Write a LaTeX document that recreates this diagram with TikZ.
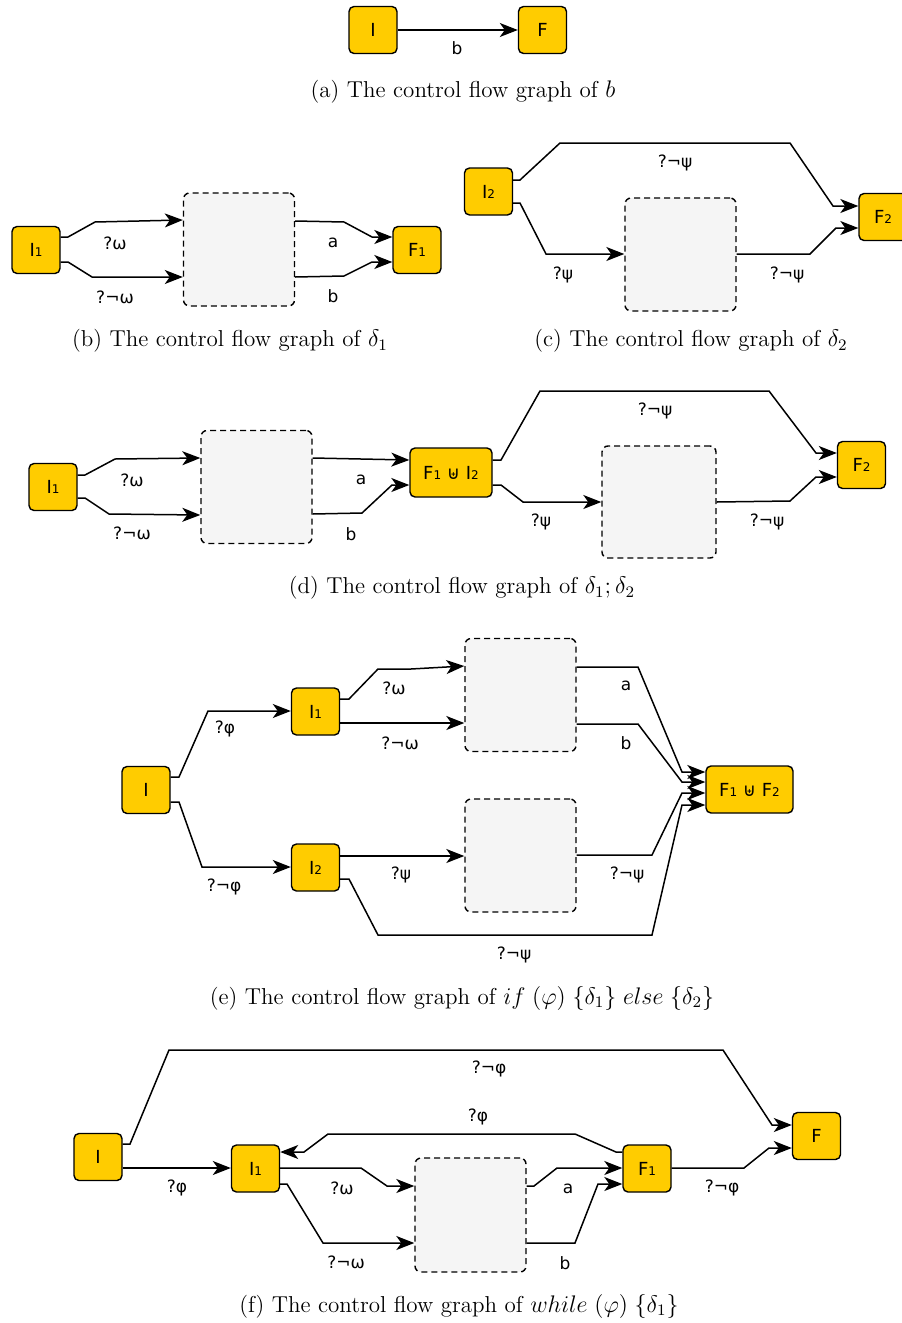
\documentclass[tikz,border=0pt]{standalone}
\usepackage{amsmath, amssymb}
\usepackage{fontspec}
\usepackage{tikz}
\usetikzlibrary{arrows.meta, calc}
\newfontfamily\dejavu{DejaVu Sans}
\definecolor{StateYellow}{HTML}{FFCC00}
\definecolor{BlockGray}{HTML}{F5F5F5}
\newcommand{\idx}[1]{{\fontsize{6}{7}\selectfont #1}}

\tikzset{
    state/.style={rectangle, rounded corners=2.5pt, fill=StateYellow, draw=black, line width=0.7pt,
        minimum width=24pt, minimum height=23.5pt, inner sep=1pt, font=\dejavu\fontsize{9}{10.8}\selectfont},
    block/.style={rectangle, rounded corners=3pt, fill=BlockGray, draw=black, line width=0.7pt,
        dash pattern=on 3pt off 2pt, minimum width=55.5pt, minimum height=56.5pt},
    flow/.style={draw=black, line width=0.75pt, -{Stealth[length=9pt, width=7pt, inset=2.5pt]}},
    guard/.style={font=\dejavu\fontsize{8.5}{10}\selectfont},
    capt/.style={font=\fontsize{11.5}{14}\selectfont}
}

\begin{document}
\begin{tikzpicture}[x=0.5pt, y=-0.5pt]
    \useasboundingbox (0,0) rectangle (901,1323);

    % (a) Action b
    \node[state] (aI) at (373,30) {I};
    \node[state] (aF) at (542.5,30) {F};
    \draw[flow] (aI) -- (aF);
    \node[guard] (aLb) at (457,48) {b};
    \node[capt] (aCap) at (463,92) {(a) The control flow graph of $b$};

    % (b) Program delta 1
    \node[state] (bI1) at (36,250) {I\idx{1}};
    \node[block] (bBox) at (239,249.5) {};
    \node[state] (bF1) at (417,250) {F\idx{1}};
    \draw[flow] (bI1.east |- 0,237) -- (68,237) -- (95,222) -- (bBox.west |- 0,220);
    \draw[flow] (bI1.east |- 0,262) -- (68,262) -- (92,277) -- (bBox.west |- 0,277);
    \draw[flow] (bBox.east |- 0,221) -- (344,222) -- (372,237) -- (bF1.west |- 0,237);
    \draw[flow] (bBox.east |- 0,277) -- (344,276) -- (372,262) -- (bF1.west |- 0,262);
    \node[guard] (bLw) at (115,243) {?ω};
    \node[guard] (bLnw) at (115,297) {?¬ω};
    \node[guard] (bLa) at (333,243) {a};
    \node[guard] (bLb) at (333,296) {b};
    \node[capt] (bCap) at (230,341) {(b) The control flow graph of $\delta_1$};

    % (c) Program delta 2
    \node[state] (cI2) at (488.5,191.5) {I\idx{2}};
    \node[block] (cBox) at (680.5,254.5) {};
    \node[state] (cF2) at (883,217) {F\idx{2}};
    \draw[flow] (cI2.east |- 0,180) -- (520,180) -- (560,143) -- (790,143) -- (833,206) -- (cF2.west |- 0,206);
    \draw[flow] (cI2.east |- 0,203) -- (520,203) -- (546,254) -- (cBox.west |- 0,254);
    \draw[flow] (cBox.east |- 0,254) -- (810,254) -- (836,228) -- (cF2.west |- 0,228);
    \node[guard] (cLtop) at (675,163) {?¬ψ};
    \node[guard] (cLp) at (563,275) {?ψ};
    \node[guard] (cLnp) at (787,275) {?¬ψ};
    \node[capt] (cCap) at (691,341) {(c) The control flow graph of $\delta_2$};

    % (d) Sequence delta 1 ; delta 2
    \node[state] (dI1) at (53,487) {I\idx{1}};
    \node[block] (dBox1) at (256.5,487) {};
    \node[state, minimum width=41pt, minimum height=24.5pt] (dM) at (451,472.5) {F\idx{1} ⊎ I\idx{2}};
    \node[block, minimum width=57pt, minimum height=56pt] (dBox2) at (659,502) {};
    \node[state] (dF2) at (861.5,465) {F\idx{2}};
    \draw[flow] (dI1.east |- 0,475) -- (85,475) -- (115,459) -- (dBox1.west |- 0,458);
    \draw[flow] (dI1.east |- 0,498) -- (85,498) -- (109,514) -- (dBox1.west |- 0,515);
    \draw[flow] (dBox1.east |- 0,458) -- (dM.west |- 0,460);
    \draw[flow] (dBox1.east |- 0,514) -- (362,513) -- (392,485) -- (dM.west |- 0,485);
    \draw[flow] (dM.east |- 0,460) -- (501,460) -- (540,391) -- (769,391) -- (816,453) -- (dF2.west |- 0,453);
    \draw[flow] (dM.east |- 0,485) -- (501,485) -- (523,502) -- (dBox2.west |- 0,502);
    \draw[flow] (dBox2.east |- 0,502) -- (790,501) -- (816,477) -- (dF2.west |- 0,477);
    \node[guard] (dLw) at (132,480) {?ω};
    \node[guard] (dLnw) at (132,533) {?¬ω};
    \node[guard] (dLa) at (361,480) {a};
    \node[guard] (dLb) at (351,534) {b};
    \node[guard] (dLtop) at (655,411) {?¬ψ};
    \node[guard] (dLp) at (541,522) {?ψ};
    \node[guard] (dLnp) at (767,522) {?¬ψ};
    \node[capt] (dCap) at (462,588) {(d) The control flow graph of $\delta_1;\delta_2$};

    % (e) Conditional
    \node[state] (eI) at (146,790) {I};
    \node[state] (eI1) at (315.5,711.5) {I\idx{1}};
    \node[state] (eI2) at (315.5,867.5) {I\idx{2}};
    \node[block] (eBox1) at (520.5,695) {};
    \node[block] (eBox2) at (520.5,855.5) {};
    \node[state, minimum width=43.5pt] (eM) at (749.5,789.5) {F\idx{1} ⊎ F\idx{2}};
    \draw[flow] (eI.east |- 0,777) -- (179,777) -- (208,711) -- (eI1.west |- 0,711);
    \draw[flow] (eI.east |- 0,802) -- (179,802) -- (202,867) -- (eI2.west |- 0,867);
    \draw[flow] (eI1.east |- 0,699) -- (349,699) -- (378,669) -- (411,669) -- (eBox1.west |- 0,666);
    \draw[flow] (eI1.east |- 0,723) -- (eBox1.west |- 0,723);
    \draw[flow] (eBox1.east |- 0,667) -- (638,667) -- (682,772) -- (eM.west |- 0,772);
    \draw[flow] (eBox1.east |- 0,724) -- (638,724) -- (682,782) -- (eM.west |- 0,782);
    \draw[flow] (eI2.east |- 0,856) -- (eBox2.west |- 0,856);
    \draw[flow] (eBox2.east |- 0,855) -- (652,855) -- (682,793) -- (eM.west |- 0,793);
    \draw[flow] (eI2.east |- 0,879) -- (349,879) -- (378,935) -- (652,935) -- (682,805) -- (eM.west |- 0,805);
    \node[guard] (eLp) at (225,729) {?φ};
    \node[guard] (eLnp) at (224,887) {?¬φ};
    \node[guard] (eLw) at (394,688) {?ω};
    \node[guard] (eLnw) at (400,743) {?¬ω};
    \node[guard] (eLa) at (626,686) {a};
    \node[guard] (eLb) at (626,743) {b};
    \node[guard] (eLq) at (401,875) {?ψ};
    \node[guard] (eLnq) at (627,875) {?¬ψ};
    \node[guard] (eLbot) at (514,955) {?¬ψ};
    \node[capt] (eCap) at (462,998) {(e) The control flow graph of $if\;(\varphi)\;\{\delta_1\}\;else\;\{\delta_2\}$};

    % (f) Loop
    \node[state] (fI) at (98,1157) {I};
    \node[state] (fI1) at (255.5,1168.5) {I\idx{1}};
    \node[block, minimum height=57pt] (fBox) at (470.5,1215) {};
    \node[state] (fF1) at (647,1168.5) {F\idx{1}};
    \node[state] (fF) at (816.5,1136) {F};
    \draw[flow] (fI.east |- 0,1144) -- (130,1144) -- (169,1050) -- (723,1050) -- (772,1125) -- (fF.west |- 0,1125);
    \draw[flow] (fI.east |- 0,1168) -- (fI1.west |- 0,1168);
    \draw[flow] (fI1.east |- 0,1168) -- (361,1168) -- (387,1186) -- (fBox.west |- 0,1186);
    \draw[flow] (fI1.east |- 0,1184) -- (287,1184) -- (323,1243) -- (fBox.west |- 0,1243);
    \draw[flow] (fBox.east |- 0,1186) -- (534,1186) -- (557,1168) -- (fF1.west |- 0,1168);
    \draw[flow] (fBox.east |- 0,1243) -- (575,1243) -- (598,1184) -- (fF1.west |- 0,1184);
    \draw[flow] (fF1.west |- 0,1152) -- (616,1152) -- (575,1134) -- (328,1134) -- (304,1152) -- (fI1.east |- 0,1152);
    \draw[flow] (fF1.east |- 0,1168) -- (744,1168) -- (769,1148) -- (fF.west |- 0,1148);
    \node[guard] (fLtop) at (489,1069) {?¬φ};
    \node[guard] (fLp) at (177,1188) {?φ};
    \node[guard] (fLw) at (342,1188) {?ω};
    \node[guard] (fLnw) at (346,1262) {?¬ω};
    \node[guard] (fLa) at (568,1189) {a};
    \node[guard] (fLb) at (565,1263) {b};
    \node[guard] (fLback) at (478,1117) {?φ};
    \node[guard] (fLexit) at (722,1188) {?¬φ};
    \node[capt] (fCap) at (459,1306) {(f) The control flow graph of $while\;(\varphi)\;\{\delta_1\}$};
\end{tikzpicture}
\end{document}
